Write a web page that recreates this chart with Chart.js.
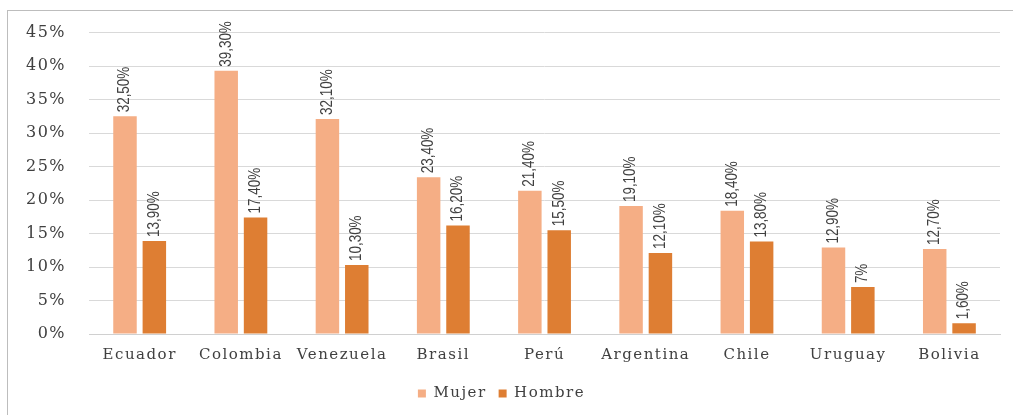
<!DOCTYPE html>
<html><head><meta charset="utf-8">
<script src="https://cdn.jsdelivr.net/npm/chart.js@4/dist/chart.umd.min.js"></script>
<style>
html,body{margin:0;padding:0;background:#fff;overflow:hidden;}
#wrap{position:absolute;left:0;top:0;width:1013px;height:415px;overflow:hidden;}
#frame{position:absolute;left:7px;top:10px;width:1020px;height:420px;border-top:1px solid #bdbdbd;border-left:1px solid #bdbdbd;}
canvas{position:absolute;left:0;top:0;}
</style></head><body>
<div id="wrap"><div id="frame"></div><canvas id="c" width="1013" height="415"></canvas></div>
<script>
const categories = ["Ecuador","Colombia","Venezuela","Brasil","Perú","Argentina","Chile","Uruguay","Bolivia"];
const mujer = [32.5, 39.3, 32.1, 23.4, 21.4, 19.1, 18.4, 12.9, 12.7];
const hombre = [13.9, 17.4, 10.3, 16.2, 15.5, 12.1, 13.8, 7, 1.6];
const seriesNames = ["Mujer","Hombre"];

function fmt(v){
  if (Number.isInteger(v)) return v + "%";
  return v.toFixed(2).replace(".", ",") + "%";
}

const spacingPlugin = {
  id: 'spacing',
  beforeUpdate(chart){ chart.ctx.letterSpacing = '1.5px'; },
  beforeDraw(chart){ chart.ctx.letterSpacing = '1.5px'; },
  afterDraw(chart){ chart.ctx.letterSpacing = '0px'; }
};

const labelPlugin = {
  id: 'vlabels',
  afterDatasetsDraw(chart){
    const ctx = chart.ctx;
    chart.data.datasets.forEach((ds, di) => {
      const meta = chart.getDatasetMeta(di);
      meta.data.forEach((bar, i) => {
        ctx.save();
        ctx.letterSpacing = '0px';
        ctx.translate(bar.x, bar.y - 4);
        ctx.rotate(-Math.PI/2);
        ctx.scale(0.84, 1);
        ctx.font = "16px 'Liberation Sans', 'DejaVu Sans', sans-serif";
        ctx.fillStyle = "#404040";
        ctx.textAlign = "left";
        ctx.textBaseline = "middle";
        ctx.fillText(fmt(ds.data[i]), 0, 0);
        ctx.restore();
      });
    });
  }
};

new Chart(document.getElementById('c'), {
  type: 'bar',
  data: {
    labels: categories,
    datasets: [
      {label: seriesNames[0], data: mujer, backgroundColor: '#F5AE85'},
      {label: seriesNames[1], data: hombre, backgroundColor: '#DE7E33'}
    ]
  },
  options: {
    responsive: false,
    animation: false,
    layout: {padding: {left: 3, right: 13, top: 25, bottom: 4}},
    datasets: {bar: {categoryPercentage: 0.58, barPercentage: 0.8}},
    plugins: {
      legend: {
        position: 'bottom',
        labels: {
          boxWidth: 8, boxHeight: 8, padding: 12,
          color: '#404040',
          font: {family: "'DejaVu Serif', serif", size: 15}
        }
      },
      tooltip: {enabled: false}
    },
    scales: {
      x: {
        grid: {display: false},
        border: {display: true, color: '#d0d0d0'},
        afterFit: s => { s.height += 6; },
        ticks: {color: '#404040', font: {family: "'DejaVu Serif', serif", size: 15}, maxRotation: 0, padding: 4}
      },
      y: {
        min: 0, max: 45,
        border: {display: false},
        grid: {color: '#d9d9d9', drawTicks: false},
        ticks: {stepSize: 5, color: '#404040', padding: 23,
          font: {family: "'DejaVu Serif', serif", size: 16},
          callback: v => v + '%'}
      }
    }
  },
  plugins: [spacingPlugin, labelPlugin]
});
</script>
</body></html>
